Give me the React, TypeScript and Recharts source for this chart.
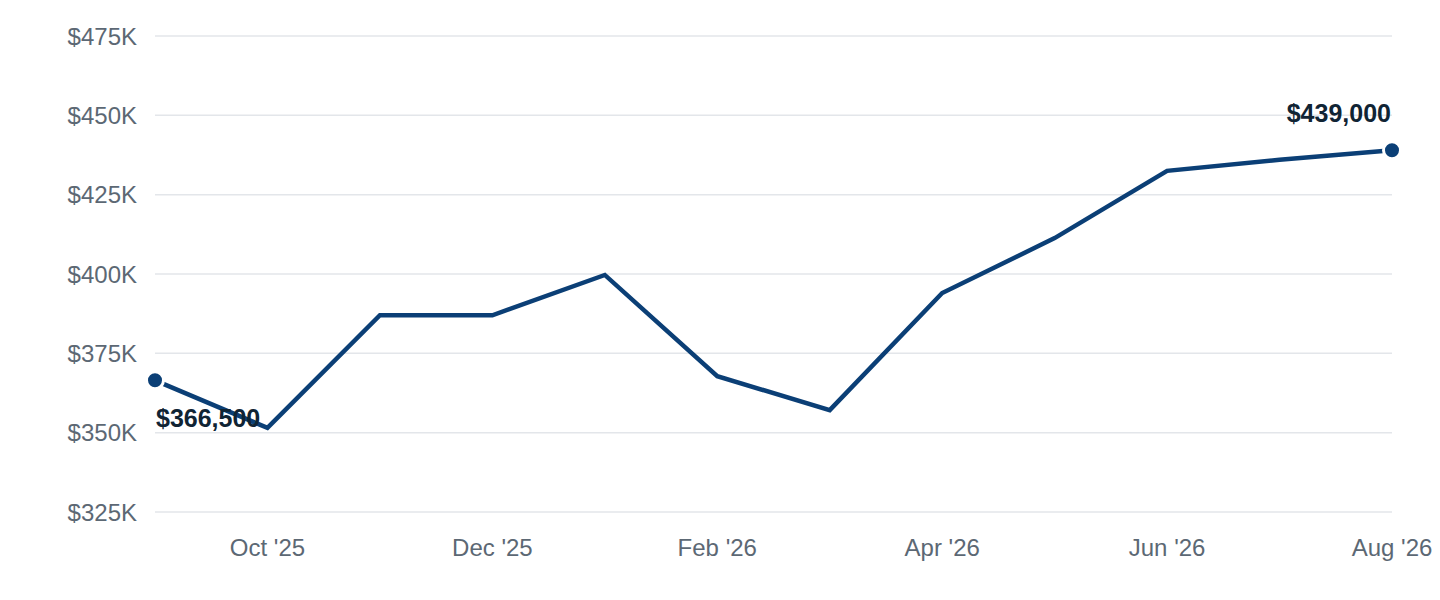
import React from "react";
import { LineChart, Line, XAxis, YAxis, CartesianGrid } from "recharts";

const months = [
  "Sep '25", "Oct '25", "Nov '25", "Dec '25", "Jan '26", "Feb '26",
  "Mar '26", "Apr '26", "May '26", "Jun '26", "Jul '26", "Aug '26",
];
const prices = [
  366500, 351500, 387000, 387000, 399700, 367800,
  357100, 394000, 411300, 432500, 436000, 439000,
];
const xTicks = ["Oct '25", "Dec '25", "Feb '26", "Apr '26", "Jun '26", "Aug '26"];
const yTicks = [325000, 350000, 375000, 400000, 425000, 450000, 475000];

const data = months.map((m, i) => ({ month: m, price: prices[i] }));

const LINE = "#0b3f76";
const FONT = "'Liberation Sans', Arial, sans-serif";

const fmtK = (v: number) => `$${Math.round(v / 1000)}K`;
const fmtFull = (v: number) => `$${v.toLocaleString("en-US")}`;

function EndDot(props: any) {
  const { cx, cy, index, value } = props;
  const last = data.length - 1;
  if (index !== 0 && index !== last) return <g key={`d${index}`} />;
  const first = index === 0;
  const v = Array.isArray(value) ? value[1] : value;
  return (
    <g key={`d${index}`}>
      <circle cx={cx} cy={cy} r={8.5} fill={LINE} stroke="#fff" strokeWidth={3} />
      <text
        x={first ? cx + 1 : cx - 1}
        y={first ? cy + 47 : cy - 28}
        textAnchor={first ? "start" : "end"}
        fontFamily={FONT}
        fontSize={25}
        fontWeight={700}
        fill="#102434"
      >
        {fmtFull(v)}
      </text>
    </g>
  );
}

export default function App() {
  return (
    <div style={{ position: "absolute", left: 0, top: 0, width: 1440, height: 600, background: "#fff" }}>
      <LineChart
        width={1440}
        height={600}
        data={data}
        margin={{ top: 36, right: 48, bottom: 48, left: 0 }}
      >
        <CartesianGrid vertical={false} stroke="#e3e6ea" strokeWidth={1.5} />
        <XAxis
          dataKey="month"
          ticks={xTicks}
          interval={0}
          axisLine={false}
          tickLine={false}
          height={40}
          tickMargin={21}
          tick={{ fontFamily: FONT, fontSize: 24, fill: "#5c6874" }}
        />
        <YAxis
          domain={[325000, 475000]}
          ticks={yTicks}
          tickFormatter={fmtK}
          axisLine={false}
          tickLine={false}
          width={155}
          tickMargin={12}
          tick={{ fontFamily: FONT, fontSize: 24, fill: "#5c6874" }}
        />
        <Line
          type="linear"
          dataKey="price"
          stroke={LINE}
          strokeWidth={4.5}
          dot={EndDot}
          activeDot={false}
          isAnimationActive={false}
        />
      </LineChart>
    </div>
  );
}
